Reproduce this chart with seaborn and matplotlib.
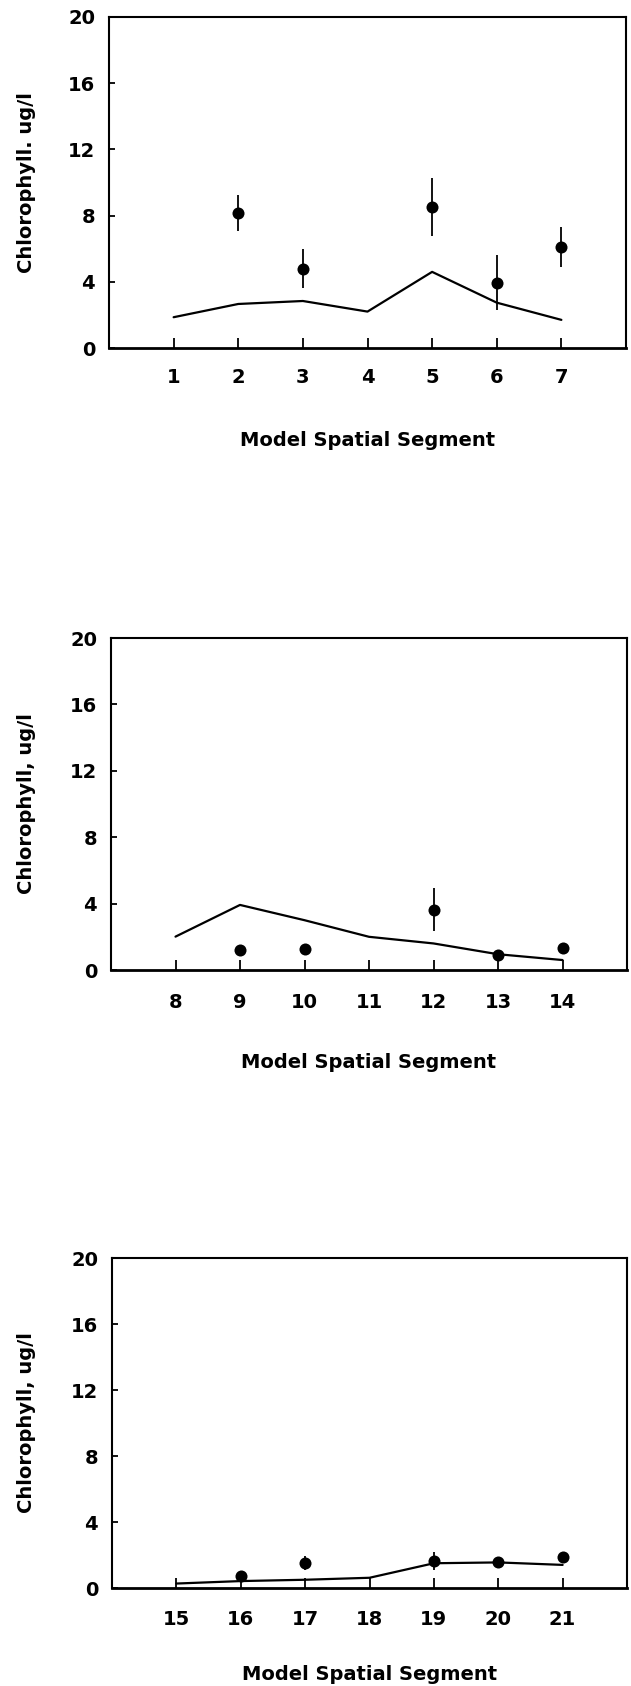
import numpy as np
import pandas as pd
import matplotlib
matplotlib.use("Agg")
import matplotlib.pyplot as plt
import seaborn as sns

# ---- data ----
seg_p1 = [1, 2, 3, 4, 5, 6, 7]
model_p1 = [1.86, 2.66, 2.84, 2.2, 4.6, 2.74, 1.7]
obs_seg_p1 = [2, 3, 5, 6, 7]
obs_p1 = [8.14, 4.8, 8.54, 3.94, 6.1]
err_p1 = [1.1, 1.2, 1.75, 1.65, 1.2]

seg_p2 = [8, 9, 10, 11, 12, 13, 14]
model_p2 = [2.01, 3.92, 3.0, 2.0, 1.6, 0.95, 0.6]
obs_seg_p2 = [9, 10, 12, 13, 14]
obs_p2 = [1.2, 1.25, 3.62, 0.9, 1.31]
err_p2 = [0.0, 0.0, 1.3, 0.0, 0.0]

seg_p3 = [15, 16, 17, 18, 19, 20, 21]
model_p3 = [0.27, 0.42, 0.5, 0.62, 1.5, 1.55, 1.4]
obs_seg_p3 = [16, 17, 19, 20, 21]
obs_p3 = [0.7, 1.5, 1.65, 1.55, 1.9]
err_p3 = [0.0, 0.42, 0.53, 0.0, 0.0]

y_ticks = [0, 4, 8, 12, 16, 20]
y_labels = ["Chlorophyll. ug/l", "Chlorophyll, ug/l", "Chlorophyll, ug/l"]
x_label = "Model Spatial Segment"

sns.set_theme(style="white")
plt.rcParams['font.family'] = ['DejaVu Sans']
plt.rcParams['font.weight'] = 'bold'
plt.rcParams['text.color'] = 'black'
plt.rcParams['axes.labelcolor'] = 'black'
plt.rcParams['xtick.color'] = 'black'
plt.rcParams['ytick.color'] = 'black'

W, H = 631, 1686
fig = plt.figure(figsize=(W / 100, H / 100), dpi=100)

# axes boxes in pixels: left, right, top, bottom, tick-label offset, xlabel offset
boxes = [
    (109, 626, 17, 348, 30, 92),
    (111, 627, 638, 970, 33, 92),
    (112, 627, 1258, 1588, 32, 87),
]

panels = [
    (seg_p1, model_p1, obs_seg_p1, obs_p1, err_p1),
    (seg_p2, model_p2, obs_seg_p2, obs_p2, err_p2),
    (seg_p3, model_p3, obs_seg_p3, obs_p3, err_p3),
]

for i, ((l, r, t, b, toff, xoff), (seg, mod, oseg, obs, err)) in enumerate(zip(boxes, panels)):
    ax = fig.add_axes([l / W, 1 - b / H, (r - l) / W, (b - t) / H])
    dm = pd.DataFrame({"seg": seg, "model": mod})
    do = pd.DataFrame({"seg": oseg, "obs": obs, "err": err})

    sns.lineplot(data=dm, x="seg", y="model", ax=ax, color="black", linewidth=1.6)
    eb = do[do["err"] > 0]
    ax.vlines(eb["seg"], eb["obs"] - eb["err"], eb["obs"] + eb["err"],
              color="black", linewidth=1.3, zorder=3)
    sns.scatterplot(data=do, x="seg", y="obs", ax=ax, color="black", s=75,
                    edgecolor="black", linewidth=0, zorder=4)

    ax.set_xlim(seg[0] - 1, seg[-1] + 1)
    ax.set_ylim(0, 20)
    ax.set_xticks(seg)
    ax.set_yticks(y_ticks)
    ax.set_xticklabels([str(s) for s in seg], fontsize=14, fontweight='bold')
    ax.set_yticklabels([str(v) for v in y_ticks], fontsize=14, fontweight='bold')
    ax.tick_params(axis='x', direction='in', length=7, width=1.3,
                   pad=(toff - 10) * 0.72, bottom=True, top=False, colors='black')
    ax.tick_params(axis='y', direction='in', length=4, width=1.3, pad=10,
                   left=True, right=False, colors='black')
    for sp in ax.spines.values():
        sp.set_visible(True)
        sp.set_color('black')
        sp.set_linewidth(1.5)
    ax.spines['bottom'].set_linewidth(2.0)

    ax.set_xlabel(x_label, fontsize=14, fontweight='bold', color='black')
    ax.xaxis.label.set_va('center')
    ax.xaxis.set_label_coords(0.5, -xoff / (b - t))
    ax.set_ylabel(y_labels[i], fontsize=14, fontweight='bold', color='black')
    ax.yaxis.label.set_va('center')
    ax.yaxis.set_label_coords(-(l - 27) / (r - l), 0.5)
    ax.grid(False)

fig.savefig("out.png", dpi=100, facecolor="white")
